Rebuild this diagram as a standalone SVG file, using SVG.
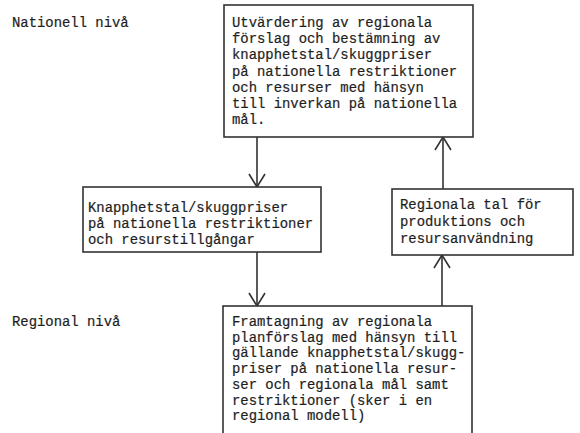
<svg xmlns="http://www.w3.org/2000/svg" width="580" height="433" viewBox="0 0 580 433">
<style>
  .box { fill: #ffffff; stroke: #333333; stroke-width: 1.6; }
  .t { font-family: "Liberation Mono", "DejaVu Sans Mono", monospace; font-size: 13.9px; fill: #1e1e1e; stroke: #1e1e1e; stroke-width: 0.2; }
  .ln { fill: none; stroke: #333333; stroke-width: 1.6; }
  .ah { fill: none; stroke: #333333; stroke-width: 1.6; stroke-linejoin: miter; }
</style>
<rect width="580" height="433" fill="#ffffff"/>

<g id="label-nationell">
  <text class="t" x="12" y="27">Nationell nivå</text>
</g>
<g id="label-regional">
  <text class="t" x="12" y="326">Regional nivå</text>
</g>

<g id="connectors">
  <line class="ln" x1="257" y1="137" x2="257" y2="186"/>
  <polyline class="ah" points="249,174 257,187 265,174"/>
  <line class="ln" x1="257" y1="252" x2="257" y2="305"/>
  <polyline class="ah" points="249,293 257,306 265,293"/>
  <line class="ln" x1="443" y1="189" x2="443" y2="138"/>
  <polyline class="ah" points="435,150 443,137 451,150"/>
  <line class="ln" x1="442" y1="306" x2="442" y2="256"/>
  <polyline class="ah" points="434,268 442,255 450,268"/>
</g>

<g id="node-utvardering">
  <rect class="box" x="224" y="5" width="249" height="132"/>
  <text class="t">
    <tspan x="232" y="27">Utvärdering av regionala</tspan>
    <tspan x="232" y="43.2">förslag och bestämning av</tspan>
    <tspan x="232" y="59.4">knapphetstal/skuggpriser</tspan>
    <tspan x="232" y="75.6">på nationella restriktioner</tspan>
    <tspan x="232" y="91.8">och resurser med hänsyn</tspan>
    <tspan x="232" y="108">till inverkan på nationella</tspan>
    <tspan x="232" y="124.2">mål.</tspan>
  </text>
</g>

<g id="node-knapphetstal">
  <rect class="box" x="83" y="187" width="238" height="65"/>
  <text class="t">
    <tspan x="88" y="212">Knapphetstal/skuggpriser</tspan>
    <tspan x="88" y="228">på nationella restriktioner</tspan>
    <tspan x="88" y="244">och resurstillgångar</tspan>
  </text>
</g>

<g id="node-regionala-tal">
  <rect class="box" x="392" y="189" width="181" height="66"/>
  <text class="t">
    <tspan x="400" y="209">Regionala tal för</tspan>
    <tspan x="400" y="226">produktions och</tspan>
    <tspan x="400" y="243">resursanvändning</tspan>
  </text>
</g>

<g id="node-framtagning">
  <rect class="box" x="223" y="306" width="249" height="140"/>
  <text class="t">
    <tspan x="232" y="326">Framtagning av regionala</tspan>
    <tspan x="232" y="341.7">planförslag med hänsyn till</tspan>
    <tspan x="232" y="357.4">gällande knapphetstal/skugg-</tspan>
    <tspan x="232" y="373.1">priser på nationella resur-</tspan>
    <tspan x="232" y="388.8">ser och regionala mål samt</tspan>
    <tspan x="232" y="404.5">restriktioner (sker i en</tspan>
    <tspan x="232" y="420.2">regional modell)</tspan>
  </text>
</g>
</svg>
